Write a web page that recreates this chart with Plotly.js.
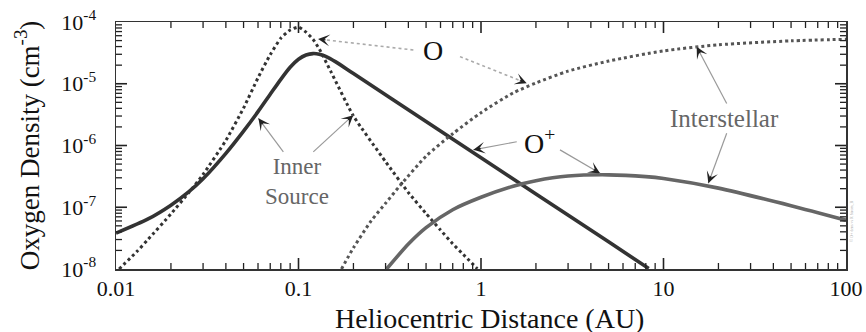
<!DOCTYPE html>
<html><head><meta charset="utf-8">
<script src="https://cdn.plot.ly/plotly-3.0.1.min.js"></script>
<style>html,body{margin:0;padding:0;background:#fff}#chart{width:866px;height:332px}</style>
</head><body><div id="chart"></div>
<script>
// ---- data (heliocentric distance in AU, density in cm^-3) ----
// inner source O+ (solid, dark)
const innerIonR = [0.01,0.015,0.02,0.025,0.03,0.04,0.05,0.06,0.07,0.08,0.09,0.1,0.11,0.12,0.13,0.14,0.16,0.2,0.5,1,2,5,8.3];
const innerIonN = [3.8e-8,6.46e-8,1.08e-7,1.77e-7,2.89e-7,7.46e-7,1.71e-6,3.53e-6,6.75e-6,1.18e-5,1.85e-5,2.49e-5,2.92e-5,3.08e-5,3.01e-5,2.8e-5,2.26e-5,1.46e-5,2.45e-6,6.34e-7,1.64e-7,2.75e-8,1.02e-8];
// inner source O (dotted, dark)
const innerNeuR = [0.0104,0.013,0.015,0.02,0.025,0.03,0.04,0.05,0.06,0.07,0.08,0.09,0.1,0.11,0.12,0.13,0.15,0.2,0.3,0.4,0.5,0.6,0.7,0.8,0.955];
const innerNeuN = [1.0e-8,1.91e-8,3.02e-8,7.8e-8,1.71e-7,3.4e-7,1.21e-6,4.04e-6,1.25e-5,2.96e-5,5.47e-5,7.43e-5,8.26e-5,6.84e-5,5.26e-5,3.66e-5,1.6e-5,3.0e-6,5.48e-7,1.73e-7,7.92e-8,4.27e-8,2.56e-8,1.72e-8,1.01e-8];
// interstellar O (dotted)
const isNeuR = [0.172,0.2,0.25,0.3,0.36,0.5,0.7,1,1.5,2,3,5,10,20,50,100];
const isNeuN = [1.0e-8,2.2e-8,6.0e-8,1.16e-7,2.24e-7,6.7e-7,1.55e-6,3.4e-6,7.1e-6,1.03e-5,1.6e-5,2.33e-5,3.4e-5,4.27e-5,4.95e-5,5.25e-5];
// interstellar O+ (solid, gray)
const isIonR = [0.304,0.4,0.5,0.7,1,1.5,2,3,5,8,10,20,50,100];
const isIonN = [1.0e-8,2.54e-8,4.68e-8,9.12e-8,1.45e-7,2.19e-7,2.69e-7,3.2e-7,3.35e-7,3.13e-7,2.92e-7,2.04e-7,1.06e-7,6.17e-8];

// ---- tick labels ----
const xTickVals = [0.01,0.1,1,10,100];
const xTickText = ['0.01','0.1','1','10','100'];
const yTickVals = [1e-8,1e-7,1e-6,1e-5,1e-4];
const yTickText = ['10<sup>-8</sup>','10<sup>-7</sup>','10<sup>-6</sup>','10<sup>-5</sup>','10<sup>-4</sup>'];

// ---- annotation labels: [text, x(AU), y(cm^-3)] ----
const labels = [
  ['O', 0.546, 3.4e-5],
  ['O<sup>+</sup>', 2.1, 1.14e-6],
  ['Inner<br>Source', 0.098, 2.66e-7],
  ['Interstellar', 21.7, 2.75e-6]
];
// arrows: [tailX, tailY, headX, headY, dotted]
const arrows = [
  [0.426, 3.52e-5, 0.128, 5.3e-5, true],
  [0.767, 2.75e-5, 1.78, 1.02e-5, true],
  [1.57, 1.15e-6, 0.908, 8.5e-7, false],
  [2.71, 8.5e-7, 4.49, 3.55e-7, false],
  [0.0826, 7.9e-7, 0.0603, 2.75e-6, false],
  [0.1205, 7.9e-7, 0.1995, 3.1e-6, false],
  [22.2, 4.8e-6, 15.2, 3.98e-5, false],
  [22.2, 1.58e-6, 17.6, 2.45e-7, false]
];

const FONT = '"Liberation Serif", "Times New Roman", serif';
const XR = [-2, 2], YR = [-8, -4];
const PW = 730, PH = 247;
const px = v => (Math.log10(v) - XR[0]) / (XR[1] - XR[0]);
const py = v => (Math.log10(v) - YR[0]) / (YR[1] - YR[0]);

const traces = [
  {x: innerIonR, y: innerIonN, mode: 'lines', line: {color: '#333', width: 3.6, shape: 'spline', smoothing: 0.7}},
  {x: innerNeuR, y: innerNeuN, mode: 'lines', line: {color: '#333', width: 3, dash: 'dot', shape: 'spline', smoothing: 0.5}},
  {x: isNeuR, y: isNeuN, mode: 'lines', line: {color: '#555', width: 3, dash: 'dot', shape: 'spline', smoothing: 0.7}},
  {x: isIonR, y: isIonN, mode: 'lines', line: {color: '#666', width: 3.6, shape: 'spline', smoothing: 0.7}}
];

const shapes = [];
const annotations = [];

// inward tick marks on all four sides (major at decades, minor at 2..9)
function minorTicks(lo, hi) {
  const out = [];
  for (let e = lo; e < hi; e++) for (let d = 2; d <= 9; d++) out.push(d * Math.pow(10, e));
  return out;
}
function xTickShapes(vals, len, width) {
  vals.forEach(v => {
    const xp = px(v);
    if (xp > 0.001 && xp < 0.999) {
      shapes.push({type: 'line', xref: 'paper', yref: 'paper', layer: 'above', x0: xp, x1: xp, y0: 0, y1: len / PH, line: {color: '#222', width: width}});
      shapes.push({type: 'line', xref: 'paper', yref: 'paper', layer: 'above', x0: xp, x1: xp, y0: 1, y1: 1 - len / PH, line: {color: '#222', width: width}});
    }
  });
}
function yTickShapes(vals, len, width) {
  vals.forEach(v => {
    const yp = py(v);
    if (yp > 0.001 && yp < 0.999) {
      shapes.push({type: 'line', xref: 'paper', yref: 'paper', layer: 'above', y0: yp, y1: yp, x0: 0, x1: len / PW, line: {color: '#222', width: width}});
      shapes.push({type: 'line', xref: 'paper', yref: 'paper', layer: 'above', y0: yp, y1: yp, x0: 1, x1: 1 - len / PW, line: {color: '#222', width: width}});
    }
  });
}
xTickShapes(xTickVals, 11, 1.6);
xTickShapes(minorTicks(-2, 2), 6, 1.3);
yTickShapes(yTickVals, 11, 1.6);
yTickShapes(minorTicks(-8, -4), 6, 1.3);

arrows.forEach(a => {
  const [tx, ty, hx, hy, dotted] = a;
  shapes.push({type: 'line', xref: 'paper', yref: 'paper', layer: 'above',
    x0: px(tx), y0: py(ty), x1: px(hx), y1: py(hy),
    line: {color: dotted ? '#aaa' : '#999', width: dotted ? 1.6 : 1.2, dash: dotted ? 'dot' : 'solid'}});
  let dx = (px(tx) - px(hx)) * PW, dy = -(py(ty) - py(hy)) * PH;
  const L = Math.hypot(dx, dy), s = 9 / L;
  annotations.push({xref: 'paper', yref: 'paper', x: px(hx), y: py(hy), ax: dx * s, ay: dy * s,
    text: '', showarrow: true, arrowhead: 3, arrowsize: 1.5, arrowwidth: 1.3, arrowcolor: '#222'});
});
labels.forEach((l, i) => {
  const gray = i >= 2;
  annotations.push({xref: 'paper', yref: 'paper', x: px(l[1]), y: py(l[2]), text: l[0], showarrow: false,
    xanchor: 'center', yanchor: 'middle',
    font: {family: FONT, size: gray ? (i === 3 ? 25 : 23) : 28, color: gray ? '#666' : '#111'}});
});
annotations.push({xref: 'paper', yref: 'paper', x: 0.512, y: -0.2, yanchor: 'middle', xanchor: 'center',
  text: 'Heliocentric Distance (AU)', showarrow: false, font: {family: FONT, size: 28, color: '#111'}});
annotations.push({xref: 'paper', yref: 'paper', x: 1.014, y: 0.1, text: '© O+ dens vs R Strom_B', showarrow: false,
  textangle: -90, font: {family: FONT, size: 4, color: '#aaa'}});

const axisCommon = {
  type: 'log', tickmode: 'array', ticks: '', showline: true, linecolor: '#333', linewidth: 1.5,
  mirror: true, showgrid: false, zeroline: false, fixedrange: true,
  tickfont: {family: FONT, size: 22, color: '#111'}
};

const layout = {
  width: 866, height: 332,
  margin: {l: 116, r: 20, t: 22, b: 63},
  paper_bgcolor: '#fff', plot_bgcolor: '#fff',
  showlegend: false,
  xaxis: Object.assign({}, axisCommon, {range: XR, tickvals: xTickVals, ticktext: xTickText, ticklabelstandoff: -1}),
  yaxis: Object.assign({}, axisCommon, {range: YR, tickvals: yTickVals, ticktext: yTickText, ticklabelstandoff: 14,
    title: {text: 'Oxygen Density (cm<sup>-3</sup>)', font: {family: FONT, size: 27, color: '#111'}, standoff: 14}}),
  shapes: shapes,
  annotations: annotations
};

Plotly.newPlot('chart', traces, layout, {staticPlot: true, displayModeBar: false});
</script>
</body></html>
